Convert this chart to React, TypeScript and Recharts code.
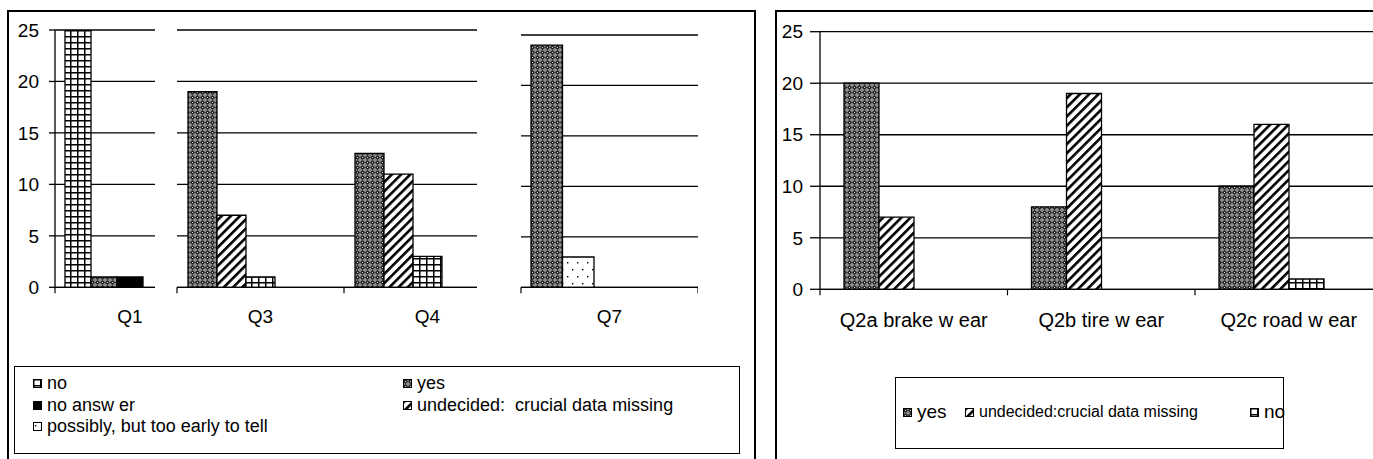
import React from 'react';
import { BarChart, Bar, XAxis, YAxis, CartesianGrid } from 'recharts';

// ---------- data ----------
const leftCategories = ['Q1', 'Q3', 'Q4', 'Q7'];
const leftNo = [25, 1, 3, 0];
const leftYes = [1, 19, 13, 24];
const leftNoAnswer = [1, 0, 0, 0];
const leftUndecided = [0, 7, 11, 0];
const leftPossibly = [0, 0, 0, 3];

const rightCategories = ['Q2a brake w ear', 'Q2b tire w ear', 'Q2c road w ear'];
const rightYes = [20, 8, 10];
const rightUndecided = [7, 19, 16];
const rightNo = [0, 0, 1];

const yTicks = [0, 5, 10, 15, 20, 25];

const leftLegendNames = {
  no: 'no',
  yes: 'yes',
  noAnswer: 'no answ er',
  undecided: 'undecided:  crucial data missing',
  possibly: 'possibly, but too early to tell',
};
const rightLegendNames = {
  yes: 'yes',
  undecided: 'undecided:crucial data missing',
  no: 'no',
};

// ---------- styles ----------
const FONT = "'Liberation Sans', Arial, Helvetica, sans-serif";
const FILLS: Record<string, string> = {
  no: 'url(#pNo)',
  yes: 'url(#pYes)',
  noAnswer: '#000',
  undecided: 'url(#pUnd)',
  possibly: 'url(#pPos)',
  blank: 'none',
};

const leftRows = leftCategories.map((cat, i) => ({
  cat,
  no: leftNo[i],
  yes: leftYes[i],
  noAnswer: leftNoAnswer[i],
  undecided: leftUndecided[i],
  possibly: leftPossibly[i],
}));

const rightRows = rightCategories.map((cat, i) => ({
  cat,
  yes: rightYes[i],
  undecided: rightUndecided[i],
  no: rightNo[i],
}));

const H = 340;

type PanelCfg = {
  data: any[];
  order: string[];
  wrapLeft: number;
  wrapWidth: number;
  marginLeft: number;
  yAxisWidth: number;
  plotWidth: number;
  top: number;
  plotBottom: number;
  barSize: number;
  showY: boolean;
  tickSize: number;
  tickMargin: number;
  yFont: number;
  xFont: number;
  labelOffset: number;
};

const panels: PanelCfg[] = [
  {
    data: leftRows.slice(0, 1),
    order: ['no', 'yes', 'noAnswer', 'undecided', 'possibly'],
    wrapLeft: 0, wrapWidth: 155, marginLeft: 10, yAxisWidth: 45, plotWidth: 150,
    top: 30, plotBottom: 287.3, barSize: 26, showY: true, tickSize: 6, tickMargin: 10,
    yFont: 19, xFont: 19, labelOffset: 36,
  },
  {
    data: leftRows.slice(1, 3),
    order: ['yes', 'undecided', 'no', 'noAnswer', 'possibly'],
    wrapLeft: 160, wrapWidth: 317, marginLeft: 17, yAxisWidth: 0, plotWidth: 334,
    top: 30, plotBottom: 287.3, barSize: 29, showY: false, tickSize: 6, tickMargin: 10,
    yFont: 19, xFont: 19, labelOffset: 36,
  },
  {
    data: leftRows.slice(3, 4),
    order: ['yes', 'possibly', 'no', 'noAnswer', 'undecided'],
    wrapLeft: 500, wrapWidth: 220, marginLeft: 21, yAxisWidth: 0, plotWidth: 177,
    top: 35, plotBottom: 287.3, barSize: 31.5, showY: false, tickSize: 6, tickMargin: 10,
    yFont: 19, xFont: 19, labelOffset: 36,
  },
  {
    data: rightRows,
    order: ['yes', 'undecided', 'no', 'blank'],
    wrapLeft: 777, wrapWidth: 596, marginLeft: 0, yAxisWidth: 43, plotWidth: 562.5,
    top: 31.7, plotBottom: 289.3, barSize: 35, showY: true, tickSize: 10, tickMargin: 7,
    yFont: 19, xFont: 20, labelOffset: 38,
  },
];

function makeTick(band: number, axisY: number, count: number, fontSize: number, labelOffset: number) {
  return (props: any) => {
    const { x, payload, index } = props;
    return (
      <g>
        <text x={x} y={axisY + labelOffset} textAnchor="middle" fontSize={fontSize} fontFamily={FONT} fill="#000">
          {payload.value}
        </text>
        <line x1={x - band / 2} x2={x - band / 2} y1={axisY} y2={axisY + 6} stroke="#000" strokeWidth={1.2} />
        {index === count - 1 && (
          <line x1={x + band / 2} x2={x + band / 2} y1={axisY} y2={axisY + 6} stroke="#000" strokeWidth={1.2} />
        )}
      </g>
    );
  };
}

function Panel({ p }: { p: PanelCfg }) {
  const chartWidth = p.marginLeft + (p.showY ? p.yAxisWidth : 0) + p.plotWidth;
  const xAxisHeight = H - p.plotBottom;
  const band = p.plotWidth / p.data.length;
  return (
    <div style={{ position: 'absolute', left: p.wrapLeft, top: 0, width: p.wrapWidth, height: H, overflow: 'hidden' }}>
      <BarChart
        width={chartWidth}
        height={H}
        data={p.data}
        margin={{ top: p.top, right: 0, bottom: 0, left: p.marginLeft }}
        barGap={0}
        barSize={p.barSize}
      >
        <CartesianGrid vertical={false} stroke="#000" strokeWidth={1.3} />
        <XAxis
          dataKey="cat"
          height={xAxisHeight}
          axisLine={{ stroke: '#000', strokeWidth: 1.3 }}
          tickLine={false}
          interval={0}
          tick={makeTick(band, p.plotBottom, p.data.length, p.xFont, p.labelOffset)}
        />
        <YAxis
          domain={[0, 25]}
          ticks={yTicks}
          hide={!p.showY}
          width={p.yAxisWidth}
          axisLine={{ stroke: '#000', strokeWidth: 1.3 }}
          tickLine={{ stroke: '#000', strokeWidth: 1.3 }}
          tickSize={p.tickSize}
          tickMargin={p.tickMargin}
          tick={{ fill: '#000', fontSize: p.yFont, fontFamily: FONT }}
          allowDataOverflow
        />
        {p.order.map((k) => (
          <Bar
            key={k}
            dataKey={k}
            fill={FILLS[k]}
            stroke="#000"
            strokeWidth={1.3}
            legendType="none"
            isAnimationActive={false}
          />
        ))}
      </BarChart>
    </div>
  );
}

function Swatch({ fill }: { fill: string }) {
  return (
    <svg width={9} height={9} style={{ display: 'block' }}>
      <rect x={0.5} y={0.5} width={8} height={8} fill={fill} stroke="#000" strokeWidth={1} />
    </svg>
  );
}

function LeftLegend() {
  const items: { key: keyof typeof leftLegendNames; left: number; top: number }[] = [
    { key: 'no', left: 18, top: 6 },
    { key: 'yes', left: 388, top: 6 },
    { key: 'noAnswer', left: 18, top: 28 },
    { key: 'undecided', left: 388, top: 28 },
    { key: 'possibly', left: 18, top: 49 },
  ];
  return (
    <div
      style={{
        position: 'absolute', left: 14, top: 366, width: 726, height: 88,
        border: '1px solid #000', boxSizing: 'border-box', fontFamily: FONT, fontSize: 18,
      }}
    >
      {items.map((it) => (
        <div
          key={it.key}
          style={{ position: 'absolute', left: it.left, top: it.top, display: 'flex', alignItems: 'center', height: 21, whiteSpace: 'pre', lineHeight: '21px' }}
        >
          <Swatch fill={FILLS[it.key]} />
          <span style={{ marginLeft: 5 }}>{leftLegendNames[it.key]}</span>
        </div>
      ))}
    </div>
  );
}

function RightLegend() {
  const items: { key: keyof typeof rightLegendNames; size: number; left: number }[] = [
    { key: 'yes', size: 19, left: 7 },
    { key: 'undecided', size: 16, left: 69 },
    { key: 'no', size: 19, left: 354 },
  ];
  return (
    <div
      style={{
        position: 'absolute', left: 895, top: 377, width: 389, height: 72,
        border: '1px solid #000', boxSizing: 'border-box', fontFamily: FONT, whiteSpace: 'pre',
      }}
    >
      {items.map((it) => (
        <div
          key={it.key}
          style={{ position: 'absolute', left: it.left, top: 22, height: 24, display: 'flex', alignItems: 'center' }}
        >
          <Swatch fill={FILLS[it.key]} />
          <span style={{ marginLeft: 5, fontSize: it.size }}>{rightLegendNames[it.key]}</span>
        </div>
      ))}
    </div>
  );
}

function Patterns() {
  return (
    <svg width={0} height={0} style={{ position: 'absolute', left: 0, top: 0 }}>
      <defs>
        <pattern id="pNo" width={7} height={6} patternUnits="userSpaceOnUse">
          <rect width={7} height={6} fill="#fff" />
          <rect x={0} y={0} width={7} height={1.5} fill="#000" />
          <rect x={0} y={0} width={1.5} height={6} fill="#000" />
        </pattern>
        <pattern id="pYes" width={5} height={5} patternUnits="userSpaceOnUse">
          <rect width={5} height={5} fill="#8c8c8c" />
          <path d="M2.5 0 L5 2.5 L2.5 5 L0 2.5 Z" fill="#222" />
          <rect x={2} y={2} width={1} height={1} fill="#d8d8d8" />
        </pattern>
        <pattern id="pUnd" width={6.5} height={6.5} patternUnits="userSpaceOnUse" patternTransform="rotate(45)">
          <rect width={6.5} height={6.5} fill="#fff" />
          <rect width={2.6} height={6.5} fill="#000" />
        </pattern>
        <pattern id="pPos" width={10} height={14} patternUnits="userSpaceOnUse">
          <rect width={10} height={14} fill="#fff" />
          <rect x={2} y={3} width={1.4} height={1.4} fill="#000" />
          <rect x={7} y={10} width={1.4} height={1.4} fill="#000" />
        </pattern>
      </defs>
    </svg>
  );
}

export default function App() {
  return (
    <div
      style={{
        position: 'absolute', left: 0, top: 0, width: 1373, height: 459,
        overflow: 'hidden', background: '#fff', fontFamily: FONT,
      }}
    >
      <Patterns />
      <div style={{ position: 'absolute', left: 7, top: 10, width: 749, height: 520, border: '2px solid #000', boxSizing: 'border-box' }} />
      <div style={{ position: 'absolute', left: 775, top: 10, width: 700, height: 520, border: '2px solid #000', boxSizing: 'border-box' }} />
      {panels.map((p, i) => (
        <Panel key={i} p={p} />
      ))}
      <LeftLegend />
      <RightLegend />
    </div>
  );
}
